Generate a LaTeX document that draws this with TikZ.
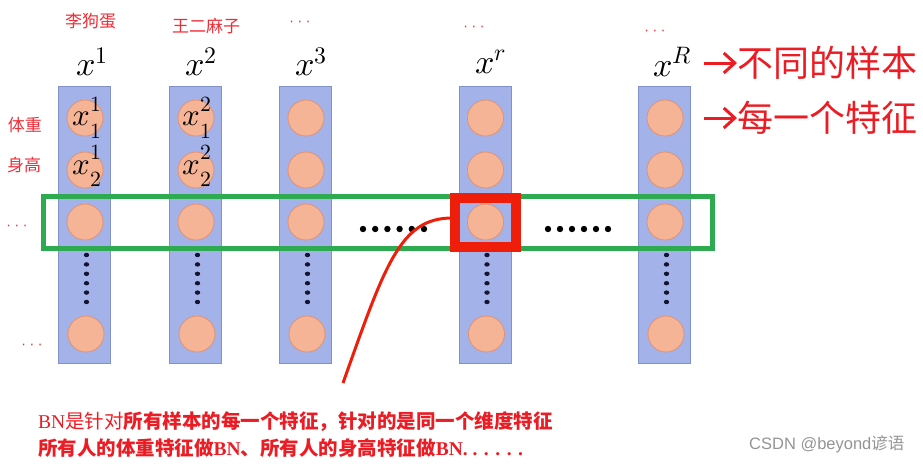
\documentclass[tikz,border=0pt]{standalone}
\usepackage{fontspec}
\usepackage{unicode-math}
\setmathfont{Latin Modern Math}
\newfontfamily\cjk{Noto Sans CJK SC}
\newfontfamily\wmfont{Liberation Sans}
\newfontfamily\serifl{Liberation Serif}
\newfontfamily\dejavu{DejaVu Sans}
\usetikzlibrary{arrows.meta}
\definecolor{colfill}{RGB}{163,178,232}
\definecolor{colborder}{RGB}{130,145,200}
\definecolor{ballfill}{RGB}{246,180,150}
\definecolor{ballborder}{RGB}{226,145,112}
\definecolor{boxgreen}{RGB}{46,170,80}
\definecolor{boxred}{RGB}{238,30,10}
\definecolor{labred}{RGB}{240,45,55}
\definecolor{txtred}{RGB}{236,28,36}
\definecolor{dotnavy}{RGB}{20,20,50}
\tikzset{
  colbox/.style={draw=colborder, fill=colfill, line width=1pt, minimum width=52pt, minimum height=277pt, inner sep=0pt},
  ball/.style={circle, draw=ballborder, fill=ballfill, line width=0.8pt, minimum size=36pt, inner sep=0pt},
  xlab/.style={inner sep=0pt, font=\fontsize{34}{40}\selectfont},
  blab/.style={inner sep=0pt, font=\fontsize{31}{38}\selectfont},
  namelab/.style={inner sep=0pt, text=labred, font=\cjk\fontsize{17}{20}\selectfont},
  ellip/.style={inner sep=0pt, text=labred, font=\dejavu\fontsize{13}{14}\selectfont},
  bigtxt/.style={inner sep=0pt, anchor=west, text=txtred, font=\cjk\fontsize{36}{40}\selectfont},
  bottxt/.style={inner sep=0pt, anchor=west, text=txtred, font=\cjk\fontsize{19.5}{22}\selectfont},
  rarrow/.style={draw=txtred, line width=3pt, -{Straight Barb[length=11pt,width=20pt,line width=3pt]}},
}
\begin{document}
\begin{tikzpicture}[x=1pt,y=-1pt]
\useasboundingbox (0,0) rectangle (923,464);
% columns
\foreach \n/\cx in {1/84.5, 2/195.5, 3/305.5, r/485, R/664.5}{
  \node[colbox] (col\n) at (\cx,224.5) {};
  \node[ball] (b\n a) at (\cx+0.5,118) {};
  \node[ball] (b\n b) at (\cx+0.5,170) {};
  \node[ball] (b\n c) at (\cx+0.5,222) {};
  \node[ball] (b\n d) at (\cx+1.5,334) {};
  \foreach \k in {0,...,5}{
    \fill[dotnavy] (\cx+2,255+\k*9.4) ellipse [x radius=2.7pt, y radius=2.2pt];
  }
}
% labels inside balls
\node[blab] (l11) at (87.5,117.5) {$x^{\raisebox{3pt}{$\scriptstyle 1$}}_{\raisebox{-5pt}{$\scriptstyle 1$}}$};
\node[blab] (l21) at (87.5,166) {$x^{\raisebox{3pt}{$\scriptstyle 1$}}_{\raisebox{-5pt}{$\scriptstyle 2$}}$};
\node[blab] (l12) at (197.5,117.5) {$x^{\raisebox{3pt}{$\scriptstyle 2$}}_{\raisebox{-5pt}{$\scriptstyle 1$}}$};
\node[blab] (l22) at (197.5,166) {$x^{\raisebox{3pt}{$\scriptstyle 2$}}_{\raisebox{-5pt}{$\scriptstyle 2$}}$};
% column headers
\node[xlab] (h1) at (92,62) {$x^1$};
\node[xlab] (h2) at (201,62) {$x^2$};
\node[xlab] (h3) at (311,62) {$x^3$};
\node[xlab] (hr) at (491,62) {$x^r$};
\node[xlab] (hR) at (672.5,62) {$x^R$};
% names
\node[namelab] (n1) at (90.5,21) {李狗蛋};
\node[namelab] (n2) at (206,26) {王二麻子};
\node[ellip] (e3) at (300,24) {· · ·};
\node[ellip] (er) at (474,29) {· · ·};
\node[ellip] (eR) at (655,33) {· · ·};
\node[namelab] (f1) at (25,125) {体重};
\node[namelab] (f2) at (24,165) {身高};
\node[ellip] (e4) at (17,228) {· · ·};
\node[ellip] (e5) at (32,347) {· · ·};
% horizontal dots
\foreach \x in {363,375.2,387.4,399.6,411.8,424}{
  \fill[black] (\x,229) circle (3.2pt);
}
\foreach \x in {548,560,572,584,596,608}{
  \fill[black] (\x,229) circle (3.2pt);
}
% green box
\node[draw=boxgreen, line width=5pt, minimum width=669pt, minimum height=51.5pt, inner sep=0pt] (gb) at (378,222.25) {};
% red square
\node[draw=boxred, line width=10pt, minimum width=60.5pt, minimum height=48.5pt, inner sep=0pt] (rs) at (485.25,222.25) {};
% red curve
\coordinate (cs) at (343,383);
\coordinate (ce) at (452,218);
\draw[boxred, line width=3pt] (cs) .. controls (385,265) and (400,218) .. (ce);
% right texts
\coordinate (a1s) at (704,63);
\coordinate (a2s) at (704,118);
\node[bigtxt] (t1) at (737,63) {不同的样本};
\node[bigtxt] (t2) at (737,118) {每一个特征};
\draw[rarrow] (a1s) -- (t1.west);
\draw[rarrow] (a2s) -- (t2.west);
% bottom texts
\node[bottxt] (bt1) at (38,422) {{\serifl BN}是针对\textbf{所有样本的每一个特征，针对的是同一个维度特征}};
\node[bottxt] (bt2) at (38,448) {\textbf{所有人的体重特征做{\serifl BN}、所有人的身高特征做{\serifl BN. . . . . .}}};
\node[inner sep=0pt, anchor=west, text=black!42, font=\wmfont\fontsize{16.5}{20}\selectfont] (wm) at (749,444) {CSDN @beyond{\cjk 谚语}};
\end{tikzpicture}
\end{document}
